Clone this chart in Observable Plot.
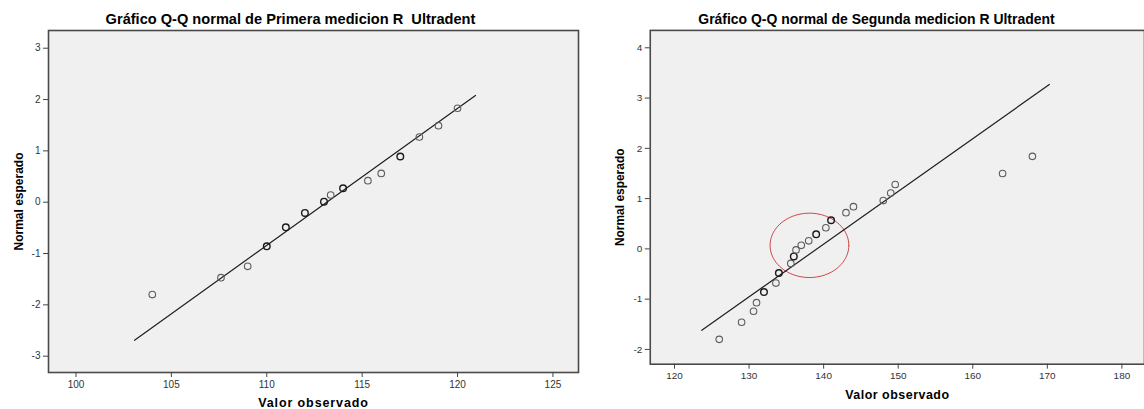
<!DOCTYPE html>
<html><head><meta charset="utf-8">
<script src="https://cdn.jsdelivr.net/npm/d3@7"></script>
<script src="https://cdn.jsdelivr.net/npm/@observablehq/plot@0.6"></script>
<style>
html,body{margin:0;padding:0;background:#fff;overflow:hidden;}
#wrap{position:relative;width:1144px;height:409px;overflow:hidden;}
#left{position:absolute;left:0;top:0;}
#right{position:absolute;left:580px;top:0;}
</style></head><body><div id="wrap"><div id="left"></div><div id="right"></div></div>
<script>
// ---- Panel 1: Primera medicion ----
const title1 = "Gráfico Q-Q normal de Primera medicion R\u00A0\u00A0Ultradent";
const obs1 = [104, 107.6, 109, 110, 111, 112, 113, 113.35, 114, 115.3, 116, 117, 118, 119, 120];
const exp1 = [-1.80, -1.47, -1.25, -0.86, -0.49, -0.21, 0.01, 0.14, 0.27, 0.42, 0.56, 0.89, 1.27, 1.49, 1.83];
const ties1 = [1, 1, 1, 2, 2, 2, 2, 1, 2, 1, 1, 2, 1, 1, 1];
const lineX1 = [103.07, 120.94];
const lineY1 = [-2.69, 2.08];
const xTicks1 = [100, 105, 110, 115, 120, 125];
const yTicks1 = [-3, -2, -1, 0, 1, 2, 3];

// ---- Panel 2: Segunda medicion ----
const title2 = "Gráfico Q-Q normal de Segunda medicion R Ultradent";
const obs2 = [126, 129, 130.6, 131, 132, 133.6, 134, 135.6, 136, 136.3, 137, 138, 139, 140.3, 141, 143, 144, 148, 149, 149.6, 164, 168];
const exp2 = [-1.80, -1.46, -1.24, -1.07, -0.86, -0.68, -0.48, -0.29, -0.15, -0.02, 0.07, 0.16, 0.29, 0.42, 0.57, 0.72, 0.84, 0.96, 1.11, 1.28, 1.50, 1.84];
const ties2 = [1, 1, 1, 1, 2, 1, 2, 1, 2, 1, 1, 1, 2, 1, 2, 1, 1, 1, 1, 1, 1, 1];
const lineX2 = [123.66, 170.27];
const lineY2 = [-1.62, 3.27];
const xTicks2 = [120, 130, 140, 150, 160, 170, 180];
const yTicks2 = [-2, -1, 0, 1, 2, 3, 4];
// highlight ellipse (center and radii in data units)
const ellipseCenter = [138.1, 0.07];
const ellipseRadii = [5.28, 0.64];

const xLabel = "Valor observado";
const yLabel = "Normal esperado";

const FONT = "Arial, 'Liberation Sans', Helvetica, sans-serif";
const fmt = d => String(d);

function panel({title, obs, exp, ties, lx, ly, xTicks, yTicks, xDomain, yDomain,
                width, margins, titleDx, titleDy, titleSize, xLabDy, xLabSpacing, yLabDx, ellipse}) {
  const pts = obs.map((x, i) => ({x, y: exp[i], t: ties[i]}));
  const line = lx.map((x, i) => ({x, y: ly[i]}));
  const marks = [
    Plot.frame({fill: "#f0f0f0", stroke: "none"}),
  ];
  if (ellipse) {
    const [cx, cy] = ellipse.center, [rx, ry] = ellipse.radii;
    const ell = d3.range(0, 361, 4).map(a => ({
      x: cx + rx * Math.cos(a * Math.PI / 180),
      y: cy + ry * Math.sin(a * Math.PI / 180)
    }));
    marks.push(Plot.line(ell, {x: "x", y: "y", stroke: "#c62828", strokeOpacity: 0.85, strokeWidth: 1, curve: "linear"}));
  }
  marks.push(
    Plot.line(line, {x: "x", y: "y", stroke: "#1e1e1e", strokeWidth: 1.2}),
    Plot.dot(pts, {x: "x", y: "y", r: 3.3, fill: "none",
      stroke: d => d.t > 1 ? "#1a1a1a" : "#5c5c5c", strokeWidth: d => d.t > 1 ? 1.4 : 1.1}),
    Plot.frame({stroke: "#4a4a4a", strokeWidth: 1.6}),
    Plot.axisX({ticks: xTicks, tickSize: 5, tickPadding: 3, tickFormat: fmt, fontSize: 10,
      stroke: "#444", color: "#333", label: null}),
    Plot.axisY({ticks: yTicks, tickSize: 5, tickPadding: 3, tickFormat: fmt, fontSize: 10,
      stroke: "#444", color: "#333", label: null}),
    Plot.text([title], {text: d => d, frameAnchor: "top", lineAnchor: "middle", textAnchor: "middle",
      dx: titleDx, dy: titleDy, fontSize: titleSize, fontWeight: "bold", fill: "#000"}),
    Plot.text([xLabel], {text: d => d, frameAnchor: "bottom", lineAnchor: "middle", textAnchor: "middle",
      dy: xLabDy, fontSize: 12.5, fontWeight: "bold", fill: "#000"}),
    Plot.text([yLabel], {text: d => d, frameAnchor: "left", lineAnchor: "middle", textAnchor: "middle",
      dx: yLabDx, rotate: -90, fontSize: 12, fontWeight: "bold", fill: "#000"})
  );
  const svg = Plot.plot({
    width, height: 409,
    marginLeft: margins[0], marginTop: margins[1], marginRight: margins[2], marginBottom: margins[3],
    style: {fontFamily: FONT, background: "transparent", overflow: "visible"},
    x: {domain: xDomain},
    y: {domain: yDomain},
    marks
  });
  d3.select(svg).selectAll("text").filter(function() { return this.textContent === xLabel; })
    .style("letter-spacing", xLabSpacing + "px");
  return svg;
}

document.getElementById("left").append(panel({
  title: title1, obs: obs1, exp: exp1, ties: ties1, lx: lineX1, ly: lineY1,
  xTicks: xTicks1, yTicks: yTicks1,
  xDomain: [98.56, 126.34], yDomain: [-3.318, 3.345],
  width: 580, margins: [48, 30, 2, 37],
  titleDx: -23, titleDy: -11, titleSize: 14.6, xLabDy: 30, xLabSpacing: 0.9, yLabDx: -29.5
}));

document.getElementById("right").append(panel({
  title: title2, obs: obs2, exp: exp2, ties: ties2, lx: lineX2, ly: lineY2,
  xTicks: xTicks2, yTicks: yTicks2,
  xDomain: [116.75, 183.03], yDomain: [-2.294, 4.346],
  width: 566, margins: [70, 30, 0, 44],
  titleDx: -21, titleDy: -11, titleSize: 14, xLabDy: 31, xLabSpacing: 0.5, yLabDx: -29.7,
  ellipse: {center: ellipseCenter, radii: ellipseRadii}
}));
</script>
</body></html>
